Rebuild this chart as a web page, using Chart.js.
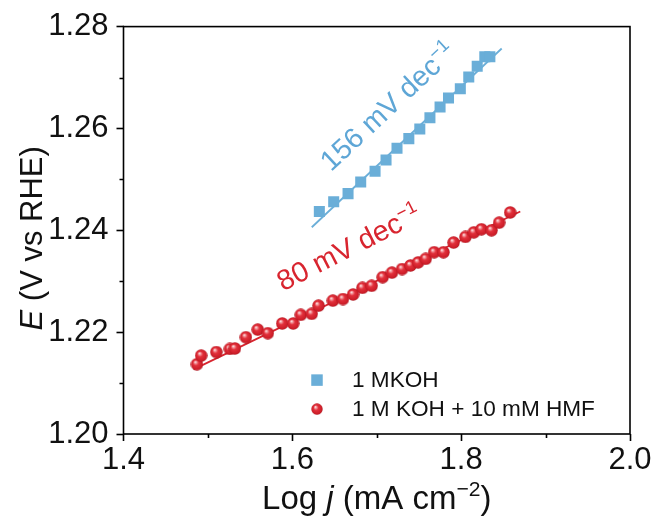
<!DOCTYPE html>
<html>
<head>
<meta charset="utf-8">
<script src="https://cdn.jsdelivr.net/npm/chart.js@4.4.1/dist/chart.umd.min.js"></script>
<style>
  html, body { margin: 0; padding: 0; background: #fff; }
  #wrap { width: 654px; height: 520px; }
</style>
</head>
<body>
<div id="wrap"><canvas id="c" width="654" height="520"></canvas></div>
<script>
// Tafel data: log j (mA cm^-2) vs E (V vs RHE)
const logJ_KOH = [1.632, 1.649, 1.666, 1.681, 1.698, 1.711, 1.724, 1.738, 1.751, 1.763,
                  1.775, 1.785, 1.799, 1.809, 1.819, 1.828, 1.834];
const E_KOH    = [1.2437, 1.2456, 1.2472, 1.2495, 1.2516, 1.2538, 1.2561, 1.2580, 1.2599, 1.2621,
                  1.2642, 1.2660, 1.2678, 1.2701, 1.2722, 1.2741, 1.2741];

const logJ_HMF = [1.487, 1.492, 1.510, 1.526, 1.532, 1.545, 1.559, 1.571, 1.588, 1.601,
                  1.610, 1.623, 1.631, 1.648, 1.660, 1.672, 1.683, 1.694, 1.707, 1.718,
                  1.730, 1.740, 1.749, 1.758, 1.768, 1.779, 1.791, 1.805, 1.815, 1.824,
                  1.836, 1.845, 1.858];
const E_HMF    = [1.2137, 1.2154, 1.2161, 1.2167, 1.2168, 1.2190, 1.2205, 1.2198, 1.2217, 1.2217,
                  1.2234, 1.2236, 1.2252, 1.2262, 1.2265, 1.2274, 1.2287, 1.2291, 1.2308, 1.2317,
                  1.2324, 1.2331, 1.2337, 1.2344, 1.2357, 1.2357, 1.2376, 1.2387, 1.2396, 1.2402,
                  1.2400, 1.2415, 1.2435];

// Linear Tafel fits (end points) and their slopes in mV dec^-1
const fitKOH_x = [1.623, 1.848];
const fitKOH_E = [1.2406, 1.2757];
const fitHMF_x = [1.483, 1.870];
const fitHMF_E = [1.2127, 1.2437];
const tafelSlopes = [156, 80];

const seriesLabels = ['1 MKOH', '1 M KOH + 10 mM HMF'];
const xTickLabels = ['1.4', '1.6', '1.8', '2.0'];
const yTickLabels = ['1.20', '1.22', '1.24', '1.26', '1.28'];

const BLUE = '#6aaed8';
const BLUE_TXT = '#5ea6d6';
const RED = '#d8252f';
const FONT = '"Liberation Sans", Arial, Helvetica, sans-serif';

// glossy red sphere marker
function makeSphere(d) {
  const cv = document.createElement('canvas');
  cv.width = d; cv.height = d;
  const g = cv.getContext('2d');
  const r = d / 2;
  const grad = g.createRadialGradient(r - 0.28 * r, r - 0.38 * r, 0, r, r, r);
  grad.addColorStop(0, '#ffffff');
  grad.addColorStop(0.16, '#f5a7ab');
  grad.addColorStop(0.42, '#e2303b');
  grad.addColorStop(0.85, '#cc1d28');
  grad.addColorStop(1, '#a3141e');
  g.fillStyle = grad;
  g.beginPath();
  g.arc(r, r, r - 0.3, 0, Math.PI * 2);
  g.fill();
  return cv;
}
const sphere = makeSphere(13);
const sphereLegend = makeSphere(12);

const pts = (xs, ys) => xs.map((v, i) => ({ x: v, y: ys[i] }));

// text with italic / superscript runs
function richWidth(ctx, parts, size) {
  let w = 0;
  for (const p of parts) {
    const s = p.sup ? size * 0.64 : size;
    ctx.font = (p.italic ? 'italic ' : '') + s + 'px ' + FONT;
    w += ctx.measureText(p.t).width;
  }
  return w;
}
function drawRich(ctx, parts, x, y, size, align) {
  let cx = x;
  if (align === 'center') cx = x - richWidth(ctx, parts, size) / 2;
  for (const p of parts) {
    const s = p.sup ? size * 0.64 : size;
    ctx.font = (p.italic ? 'italic ' : '') + s + 'px ' + FONT;
    ctx.fillText(p.t, cx, p.sup ? y - size * 0.38 : y);
    cx += ctx.measureText(p.t).width;
  }
}

const isMajorX = v => Math.round(v * 10) % 2 === 0;
const isMajorY = v => Math.round(v * 100) % 2 === 0;

const decorPlugin = {
  id: 'decor',
  afterDraw(chart) {
    const { ctx, chartArea: a, scales: { x, y } } = chart;
    ctx.save();
    ctx.strokeStyle = '#000';
    ctx.lineWidth = 1.6;
    // minor ticks
    ctx.beginPath();
    for (const t of y.ticks) {
      if (isMajorY(t.value)) continue;
      const py = Math.round(y.getPixelForValue(t.value)) + 0.5;
      ctx.moveTo(a.left - 4, py); ctx.lineTo(a.left, py);
    }
    for (const t of x.ticks) {
      if (isMajorX(t.value)) continue;
      const px = Math.round(x.getPixelForValue(t.value)) + 0.5;
      ctx.moveTo(px, a.bottom); ctx.lineTo(px, a.bottom + 4);
    }
    ctx.stroke();
    // frame
    ctx.strokeRect(a.left, a.top, a.right - a.left, a.bottom - a.top);

    ctx.fillStyle = '#111';
    ctx.textBaseline = 'alphabetic';
    // x axis title
    drawRich(ctx, [{ t: 'Log ' }, { t: 'j', italic: true }, { t: ' (mA cm' }, { t: '\u22122', sup: true }, { t: ')' }],
      (a.left + a.right) / 2, 509, 33, 'center');
    // y axis title
    ctx.save();
    ctx.translate(42, (a.top + a.bottom) / 2 + 8);
    ctx.rotate(-Math.PI / 2);
    drawRich(ctx, [{ t: 'E', italic: true }, { t: ' (V vs RHE)' }], 0, 0, 31, 'center');
    ctx.restore();

    // slope annotations
    const notes = [
      { s: tafelSlopes[0], x: 1.6459, y: 1.2514, ang: -43, col: BLUE_TXT },
      { s: tafelSlopes[1], x: 1.5890, y: 1.2280, ang: -27, col: RED }
    ];
    for (const n of notes) {
      ctx.save();
      ctx.translate(x.getPixelForValue(n.x), y.getPixelForValue(n.y));
      ctx.rotate(n.ang * Math.PI / 180);
      ctx.fillStyle = n.col;
      drawRich(ctx, [{ t: n.s + ' mV dec' }, { t: '\u22121', sup: true }], 0, 0, 28.5, 'left');
      ctx.restore();
    }

    // legend
    const items = chart.data.datasets.filter(d => d.showLegend);
    const lx = a.left + 193.5, ly0 = a.top + 353.5, dy = 29;
    items.forEach((d, i) => {
      const cy = ly0 + i * dy;
      if (d.pointStyle === 'rect') {
        ctx.fillStyle = d.backgroundColor;
        const s = 11.5;
        ctx.fillRect(lx - s / 2, cy - s / 2, s, s);
      } else {
        ctx.drawImage(sphereLegend, lx - 6, cy - 6);
      }
      ctx.fillStyle = '#111';
      ctx.textBaseline = 'middle';
      ctx.font = '22.6px ' + FONT;
      ctx.fillText(d.label, lx + 35, cy + 1);
    });
    ctx.restore();
  }
};

new Chart(document.getElementById('c'), {
  type: 'scatter',
  data: {
    datasets: [
      { label: 'fit KOH', type: 'line', data: pts(fitKOH_x, fitKOH_E), borderColor: BLUE, borderWidth: 1.8,
        pointRadius: 0, fill: false, order: 3, showLegend: false },
      { label: 'fit HMF', type: 'line', data: pts(fitHMF_x, fitHMF_E), borderColor: RED, borderWidth: 1.8,
        pointRadius: 0, fill: false, order: 3, showLegend: false },
      { label: seriesLabels[0], data: pts(logJ_KOH, E_KOH), pointStyle: 'rect', pointRadius: 7.8,
        backgroundColor: BLUE, borderWidth: 0, order: 1, showLegend: true },
      { label: seriesLabels[1], data: pts(logJ_HMF, E_HMF), pointStyle: sphere, pointRadius: 6.5,
        backgroundColor: RED, borderWidth: 0, order: 2, showLegend: true }
    ]
  },
  options: {
    responsive: false,
    animation: false,
    events: [],
    layout: { padding: { top: 25, right: 24, left: 0, bottom: 0 } },
    plugins: { legend: { display: false }, tooltip: { enabled: false } },
    scales: {
      x: {
        type: 'linear', min: 1.4, max: 2.0,
        afterFit(s) { s.height = 86; },
        border: { display: false },
        grid: { drawOnChartArea: false, tickLength: 7, tickWidth: 1.6,
                tickColor: c => (c.tick && isMajorX(c.tick.value)) ? '#000' : 'rgba(0,0,0,0)' },
        ticks: { stepSize: 0.1, autoSkip: false, maxRotation: 0, padding: 1, color: '#111',
                 font: { family: FONT, size: 31 },
                 callback: v => isMajorX(v) ? xTickLabels[Math.round((v - 1.4) * 5)] : '' }
      },
      y: {
        type: 'linear', min: 1.20, max: 1.28,
        afterFit(s) { s.width = 123.5; },
        border: { display: false },
        grid: { drawOnChartArea: false, tickLength: 7, tickWidth: 1.6,
                tickColor: c => (c.tick && isMajorY(c.tick.value)) ? '#000' : 'rgba(0,0,0,0)' },
        ticks: { stepSize: 0.01, autoSkip: false, padding: 8, color: '#111',
                 font: { family: FONT, size: 31 },
                 callback: v => isMajorY(v) ? yTickLabels[Math.round((v - 1.2) * 50)] : '' }
      }
    }
  },
  plugins: [decorPlugin]
});
</script>
</body>
</html>
